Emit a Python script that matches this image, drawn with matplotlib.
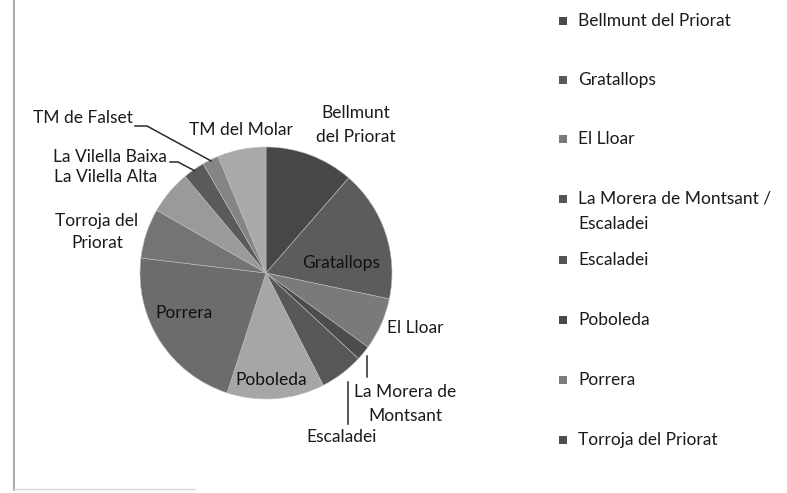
import numpy as np
import matplotlib
matplotlib.use("Agg")
import matplotlib.pyplot as plt

plt.rcParams['font.family'] = ['Lato', 'DejaVu Sans']

# ---- data ----
municipalities = ["Bellmunt del Priorat", "Gratallops", "El Lloar", "La Morera de Montsant",
                  "Escaladei", "Poboleda", "Porrera", "Torroja del Priorat",
                  "La Vilella Alta", "La Vilella Baixa", "TM de Falset", "TM del Molar"]
shares = [11.4, 16.9, 6.7, 1.9, 5.6, 12.5, 21.9, 6.4, 5.6, 2.8, 2.1, 6.2]
slice_grays = ["#474747", "#5c5c5c", "#7a7a7a", "#4c4c4c", "#575757", "#a6a6a6",
               "#6c6c6c", "#747474", "#9a9a9a", "#5a5a5a", "#858585", "#a9a9a9"]
legend_labels = ["Bellmunt del Priorat", "Gratallops", "El Lloar",
                 "La Morera de Montsant /\nEscaladei", "Escaladei", "Poboleda",
                 "Porrera", "Torroja del Priorat"]
legend_marker_grays = ["#4a4a4a", "#5a5a5a", "#7a7a7a", "#555555", "#555555",
                       "#4a4a4a", "#7c7c7c", "#4f4f4f"]

W, H = 787, 493
fig = plt.figure(figsize=(W / 100, H / 100), dpi=100)
ax = fig.add_axes([0, 0, 1, 1])

def Y(y):  # pixel-from-top -> axes y
    return H - y

cx, cy, R = 266, Y(273), 126
wedges, _ = ax.pie(shares, colors=slice_grays, startangle=90, counterclock=False,
                   center=(cx, cy), radius=R,
                   wedgeprops=dict(edgecolor="#bdbdbd", linewidth=0.4))
ax.set_xlim(0, W)
ax.set_ylim(0, H)
ax.set_aspect('auto')
ax.axis('off')

def anchor(i, rf=1.0):
    w = wedges[i]
    t = np.deg2rad((w.theta1 + w.theta2) / 2)
    return cx + R * rf * np.cos(t), cy + R * rf * np.sin(t)

tc = "#1a1a1a"
fs = 12.5

# labels
ax.text(356, Y(125), "Bellmunt\ndel Priorat", ha="center", va="center", fontsize=fs, color=tc, linespacing=1.6)
ax.text(341, Y(263), "Gratallops", ha="center", va="center", fontsize=fs, color="#111111")
ax.text(387, Y(328), "El Lloar", ha="left", va="center", fontsize=fs, color=tc)
ax.text(405, Y(404), "La Morera de\nMontsant", ha="center", va="center", fontsize=fs, color=tc, linespacing=1.6)
ax.text(342, Y(437), "Escaladei", ha="center", va="center", fontsize=fs, color=tc)
ax.text(271, Y(380), "Poboleda", ha="center", va="center", fontsize=fs, color="#111111")
ax.text(184, Y(313), "Porrera", ha="center", va="center", fontsize=fs, color="#111111")
ax.text(97, Y(232), "Torroja del\nPriorat", ha="center", va="center", fontsize=fs, color=tc, linespacing=1.5)
ax.text(106, Y(177), "La Vilella Alta", ha="center", va="center", fontsize=fs, color=tc)
ax.text(167, Y(157), "La Vilella Baixa", ha="right", va="center", fontsize=fs, color=tc)
ax.text(133, Y(118), "TM de Falset", ha="right", va="center", fontsize=fs, color=tc)
ax.text(241, Y(130), "TM del Molar", ha="center", va="center", fontsize=fs, color=tc)

lc = "#2a2a2a"
# leader lines
fx, fy = anchor(10, 0.99)
ax.plot([135, 147, fx], [Y(126), Y(126), fy], color=lc, lw=1.1)
bx, by = anchor(9, 0.99)
ax.plot([170, 178, bx], [Y(162), Y(162), by], color=lc, lw=1.1)
mx, my = anchor(3, 1.04)
ax.plot([mx, mx], [my, Y(377)], color=lc, lw=1.1)
ex, ey = anchor(4, 1.08)
ax.plot([ex, ex], [ey, Y(424)], color=lc, lw=1.1)

# legend (manual, Excel-like)
leg_y = [21, 80, 139, 199, 260, 320, 380, 440]
for lab, col, yy in zip(legend_labels, legend_marker_grays, leg_y):
    ax.scatter([563], [Y(yy)], marker="s", s=30, color=col, edgecolors="none")
    lines = lab.split("\n")
    for k, line in enumerate(lines):
        ax.text(578, Y(yy + 25 * k), line, ha="left", va="center", fontsize=fs, color=tc)

# frame remnants
ax.plot([14, 14], [Y(0), Y(490)], color="#9a9a9a", lw=1.2)
ax.plot([14, 195], [Y(489), Y(489)], color="#d5d5d5", lw=1.0)

fig.savefig("out.png", dpi=100)
